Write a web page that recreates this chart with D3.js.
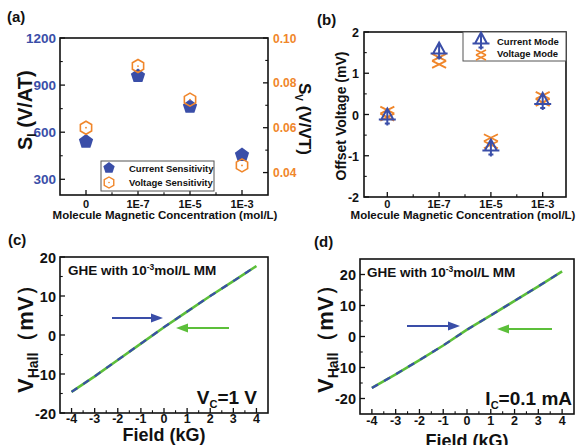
<!DOCTYPE html>
<html><head><meta charset="utf-8">
<script src="https://cdn.jsdelivr.net/npm/d3@7"></script>
<style>
body{margin:0;background:#fff;}
svg{font-family:"Liberation Sans",Arial,sans-serif;font-weight:bold;}
</style></head>
<body><svg id="c" width="577" height="445"></svg>
<script>
// ---- data ----
const categories = ["0","1E-7","1E-5","1E-3"];
const currentSensitivity = [540, 958, 762, 455];
const voltageSensitivity = [0.0600, 0.0875, 0.0725, 0.0432];
const offsetCurrentMode = [-0.05, 1.55, -0.8, 0.33];
const offsetVoltageMode = [0.02, 1.3, -0.65, 0.38];
const sensLeftTicks = [300, 600, 900, 1200];
const sensRightTicks = [0.04, 0.06, 0.08, 0.10];
const offsetTicks = [-2, -1, 0, 1, 2];
const field = [-4, -3, -2, -1, 0, 1, 2, 3, 4];
const vHallVc = [-14.6, -10.6, -6.4, -2.2, 2.0, 6.0, 10.0, 13.8, 17.7];
const vHallIc = [-16.6, -12.2, -7.6, -2.9, 2.2, 6.8, 11.5, 16.2, 21.0];
const fieldTicks = [-4, -3, -2, -1, 0, 1, 2, 3, 4];
const vHallTicks = [-20, -10, 0, 10, 20];

const BLUE = "#3a4ea8", ORANGE = "#f0862a", GREEN = "#5cbf3a";
const svg = d3.select("#c");

function frame(g, x0, x1, y0, y1){
  g.append("rect").attr("x",x0).attr("y",y0).attr("width",x1-x0).attr("height",y1-y0)
   .attr("fill","none").attr("stroke","#111").attr("stroke-width",1.6);
}
function yTicks(g, scale, x, major, minor, dir, len){
  major.forEach(v=>g.append("line").attr("x1",x).attr("x2",x+dir*len).attr("y1",scale(v)).attr("y2",scale(v)).attr("stroke","#111").attr("stroke-width",1.3));
  minor.forEach(v=>g.append("line").attr("x1",x).attr("x2",x+dir*len*0.55).attr("y1",scale(v)).attr("y2",scale(v)).attr("stroke","#111").attr("stroke-width",1.1));
}
function xTicks(g, scale, y, major, minor, len){
  major.forEach(v=>g.append("line").attr("y1",y).attr("y2",y-len).attr("x1",scale(v)).attr("x2",scale(v)).attr("stroke","#111").attr("stroke-width",1.3));
  minor.forEach(v=>g.append("line").attr("y1",y).attr("y2",y-len*0.55).attr("x1",scale(v)).attr("x2",scale(v)).attr("stroke","#111").attr("stroke-width",1.1));
}
function label(t, x, y, size, opts={}){
  const e = svg.append("text").attr("x",x).attr("y",y).attr("font-size",size)
    .attr("fill",opts.fill||"#111").attr("text-anchor",opts.anchor||"start");
  if(opts.rot) e.attr("transform",`rotate(${opts.rot},${x},${y})`);
  e.text(t); return e;
}

// ================= Panel (a) =================
(function(){
  const g = svg.append("g");
  const X0=60, X1=268, Y0=38, Y1=195;
  const x = d3.scaleLinear().domain([0.5,4.5]).range([X0,X1]);
  const yl = d3.scaleLinear().domain([200,1200]).range([Y1,Y0]);
  const yr = d3.scaleLinear().domain([0.03,0.10]).range([Y1,Y0]);
  yTicks(g, yl, X0, sensLeftTicks, [450,750,1050], 1, 5);
  yTicks(g, yr, X1, sensRightTicks, [0.05,0.07,0.09], -1, 5);
  xTicks(g, x, Y1, [1,2,3,4], [1.5,2.5,3.5], 5);
  sensLeftTicks.forEach(v=>label(v, X0-4, yl(v)+5, 13.5, {anchor:"end", fill:BLUE}));
  sensRightTicks.forEach(v=>label(v.toFixed(2), X1+5, yr(v)+4.5, 12, {fill:ORANGE}));
  categories.forEach((c,i)=>label(c, x(i+1), 208, 11, {anchor:"middle"}));
  frame(g, X0, X1, Y0, Y1);
  function pentagon(cx, cy, r){
    const pts = d3.range(5).map(k=>{const a=-Math.PI/2+k*2*Math.PI/5; return [cx+r*Math.cos(a), cy+r*Math.sin(a)];});
    return "M"+pts.map(p=>p.join(",")).join("L")+"Z";
  }
  function hexagon(cx, cy, r){
    const pts = d3.range(6).map(k=>{const a=-Math.PI/2+k*Math.PI/3; return [cx+r*Math.cos(a), cy+r*Math.sin(a)];});
    return "M"+pts.map(p=>p.join(",")).join("L")+"Z";
  }
  currentSensitivity.forEach((v,i)=>g.append("path").attr("d",pentagon(x(i+1), yl(v), 7.5)).attr("fill",BLUE));
  voltageSensitivity.forEach((v,i)=>{
    g.append("path").attr("d",hexagon(x(i+1), yr(v), 6.5)).attr("fill","none").attr("stroke",ORANGE).attr("stroke-width",1.6);
    g.append("circle").attr("cx",x(i+1)).attr("cy",yr(v)).attr("r",0.9).attr("fill",ORANGE);
  });
  // legend
  g.append("rect").attr("x",101).attr("y",161).attr("width",113).attr("height",30).attr("fill","#fff").attr("stroke","#555").attr("stroke-width",1);
  g.append("path").attr("d",pentagon(109,168,6)).attr("fill",BLUE);
  g.append("path").attr("d",hexagon(109,182.5,5.5)).attr("fill","none").attr("stroke",ORANGE).attr("stroke-width",1.4);
  g.append("circle").attr("cx",109).attr("cy",182.5).attr("r",0.8).attr("fill",ORANGE);
  label("Current Sensitivity", 129, 171.5, 9.5);
  label("Voltage Sensitivity", 129, 186, 9.5);
  // titles
  const t = label("S", 32, 150, 20, {rot:-90});
  t.append("tspan").attr("font-size",12).attr("dy",4).text("I");
  t.append("tspan").attr("dy",-4).text(" (V/AT)");
  const t2 = label("S", 299, 83, 17, {rot:90});
  t2.append("tspan").attr("font-size",10).attr("dy",4).text("V");
  t2.append("tspan").attr("dy",-4).text(" (V/VT)");
  label("Molecule Magnetic Concentration (mol/L)", 165, 219, 11.5, {anchor:"middle"});
  label("(a)", 7, 22, 15);
})();

// ================= Panel (b) =================
(function(){
  const g = svg.append("g");
  const X0=364, X1=566, Y0=32, Y1=197;
  const x = d3.scaleLinear().domain([0.55,4.45]).range([X0,X1]);
  const y = d3.scaleLinear().domain([-2,2]).range([Y1,Y0]);
  yTicks(g, y, X0, offsetTicks, [-1.5,-0.5,0.5,1.5], 1, 5);
  xTicks(g, x, Y1, [1,2,3,4], [1.5,2.5,3.5], 5);
  offsetTicks.forEach(v=>label(v, X0-5, y(v)+5, 12.5, {anchor:"end"}));
  categories.forEach((c,i)=>label(c, x(i+1), 208, 11, {anchor:"middle"}));
  frame(g, X0, X1, Y0, Y1);
  function crossMark(cx, cy){
    const p = d3.path();
    for(const oy of [-7, 0]){
      p.moveTo(cx-7, cy+oy); p.lineTo(cx+7, cy+oy+7);
      p.moveTo(cx+7, cy+oy); p.lineTo(cx-7, cy+oy+7);
    }
    return p.toString();
  }
  function triMark(cx, cy){
    const p = d3.path();
    p.moveTo(cx, cy-8); p.lineTo(cx+6, cy+3); p.lineTo(cx-6, cy+3); p.closePath();
    p.moveTo(cx-8.5, cy+3); p.lineTo(cx+8.5, cy+3);
    p.moveTo(cx, cy-8); p.lineTo(cx, cy+9);
    p.moveTo(cx-2.5, cy+7); p.lineTo(cx+2.5, cy+7);
    return p.toString();
  }
  function drawCross(cx, cy){
    g.append("path").attr("d",crossMark(cx,cy)).attr("fill","none").attr("stroke",ORANGE).attr("stroke-width",1.8);
  }
  function drawTri(cx, cy){
    g.append("path").attr("d",triMark(cx,cy)).attr("fill","none").attr("stroke",BLUE).attr("stroke-width",2);
  }
  offsetVoltageMode.forEach((v,i)=>drawCross(x(i+1), y(v)));
  offsetCurrentMode.forEach((v,i)=>drawTri(x(i+1), y(v)));
  // legend
  g.append("rect").attr("x",463).attr("y",32).attr("width",103).attr("height",29).attr("fill","#fff").attr("stroke","#555").attr("stroke-width",1);
  drawTri(481, 40.5);
  g.append("path").attr("d",(()=>{const p=d3.path();for(const oy of [-4,1]){p.moveTo(476,54+oy);p.lineTo(486,59+oy);p.moveTo(486,54+oy);p.lineTo(476,59+oy);}return p.toString();})())
   .attr("fill","none").attr("stroke",ORANGE).attr("stroke-width",1.6);
  label("Current Mode", 497, 45, 9.5);
  label("Voltage Mode", 497, 57, 9.5);
  label("Offset Voltage (mV)", 346, 116, 14, {anchor:"middle", rot:-90});
  label("Molecule Magnetic Concentration (mol/L)", 463, 219, 11.5, {anchor:"middle"});
  label("(b)", 317, 25, 15);
})();

// ================= Panels (c),(d) =================
function hallPanel(o){
  const g = svg.append("g");
  const {X0,X1,Y0,Y1} = o;
  const x = d3.scaleLinear().domain([-4.5,4.5]).range([X0,X1]);
  const y = d3.scaleLinear().domain(o.ydom).range([Y1,Y0]);
  yTicks(g, y, X0, vHallTicks.filter(v=>v>=o.ydom[0]&&v<=o.ydom[1]), [-15,-5,5,15].filter(v=>v>o.ydom[0]&&v<o.ydom[1]), 1, 5);
  xTicks(g, x, Y1, fieldTicks, [-3.5,-2.5,-1.5,-0.5,0.5,1.5,2.5,3.5], 5);
  vHallTicks.forEach(v=>{ if(v>=o.ydom[0]&&v<=o.ydom[1]) label(v, X0-4, y(v)+5.5, 14.5, {anchor:"end"}); });
  fieldTicks.forEach(v=>label(v, x(v), o.xlabY, 12.5, {anchor:"middle"}));
  frame(g, X0, X1, Y0, Y1);
  const line = d3.line().x((d,i)=>x(field[i])).y(d=>y(d));
  g.append("path").attr("d",line(o.data)).attr("fill","none").attr("stroke",GREEN).attr("stroke-width",2.6);
  g.append("path").attr("d",line(o.data)).attr("fill","none").attr("stroke",BLUE).attr("stroke-width",2.2).attr("stroke-dasharray","7,7");
  function arrow(xa, xb, yy, col){
    const dir = Math.sign(xb-xa);
    g.append("line").attr("x1",xa).attr("x2",xb-dir*8).attr("y1",yy).attr("y2",yy).attr("stroke",col).attr("stroke-width",2.2);
    g.append("path").attr("d",`M${xb},${yy}L${xb-dir*12},${yy-4.5}L${xb-dir*12},${yy+4.5}Z`).attr("fill",col);
  }
  arrow(o.ba[0], o.ba[1], o.ba[2], BLUE);
  arrow(o.ga[0], o.ga[1], o.ga[2], GREEN);
  const t = label("GHE with 10", o.gx, o.gy, 13.5);
  t.append("tspan").attr("font-size",8.5).attr("dy",-5).text("-3");
  t.append("tspan").attr("dy",5).text("mol/L MM");
  const c = label(o.cond[0], o.cx, Y1-9, 19, {anchor:"end"});
  c.append("tspan").attr("font-size",11).attr("dy",4).text("C");
  c.append("tspan").attr("dy",-4).text(o.cond[1]);
  const yt = label("V", o.ytx, o.yty, 22, {rot:-90});
  yt.append("tspan").attr("font-size",14).attr("dy",5).text("Hall");
  yt.append("tspan").attr("dy",-5).text("（mV）");
  label("Field (kG)", (X0+X1)/2, o.ftY, 18, {anchor:"middle"});
  label(o.tag, o.tagX, o.tagY, 15);
}
hallPanel({X0:60, X1:268, Y0:257, Y1:413, ydom:[-20,20], data:vHallVc, xlabY:423,
  ba:[112,163,318], ga:[229,176,328], gx:68, gy:275, cond:["V","=1 V"], cx:257,
  ytx:33, yty:393, ftY:441, tag:"(c)", tagX:8, tagY:245});
hallPanel({X0:360, X1:574, Y0:259, Y1:414, ydom:[-25,25], data:vHallIc, xlabY:425,
  ba:[407,460,326], ga:[552,497,329], gx:367, gy:277, cond:["I","=0.1 mA"], cx:572,
  ytx:333, yty:393, ftY:447, tag:"(d)", tagX:314, tagY:247});
</script></body></html>
